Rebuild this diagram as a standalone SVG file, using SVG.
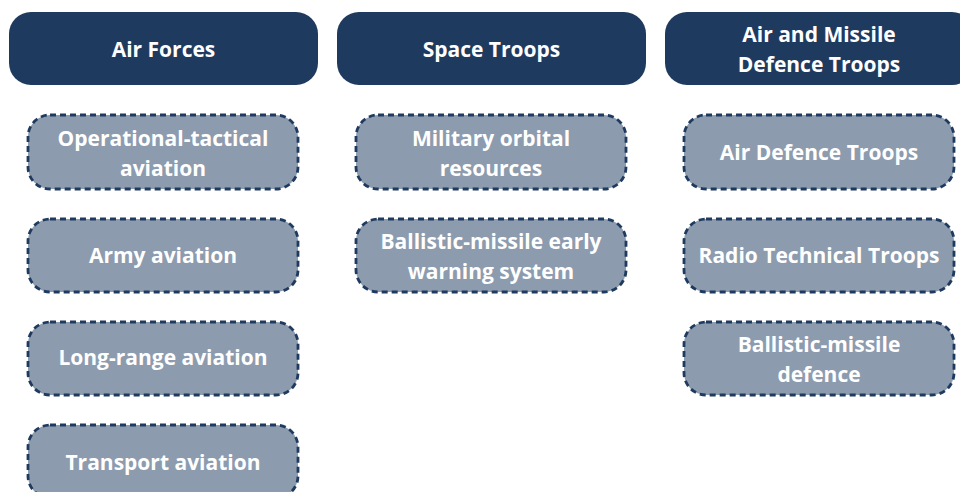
<svg xmlns="http://www.w3.org/2000/svg" width="960" height="492" viewBox="0 0 960 492">
  <style>
    .head rect { fill: #1f3a5f; }
    .sub rect { fill: #8c9bae; stroke: #1f3a5f; stroke-width: 2.8; stroke-dasharray: 6 4; }
    text { font-family: "Open Sans", "Liberation Sans", sans-serif; font-weight: 700; font-size: 21px; fill: #ffffff; text-anchor: middle; dominant-baseline: central; }
  </style>
  <rect width="960" height="492" fill="#ffffff"/>

  <!-- branch headers -->
  <g id="air-forces" class="head">
    <rect x="9" y="12" width="309" height="73" rx="22"/>
    <text x="163.5" y="49">Air Forces</text>
  </g>
  <g id="space-troops" class="head">
    <rect x="337" y="12" width="309" height="73" rx="22"/>
    <text x="491.5" y="49">Space Troops</text>
  </g>
  <g id="air-missile-defence" class="head">
    <rect x="665" y="12" width="309" height="73" rx="22"/>
    <text x="819" y="34">Air and Missile</text>
    <text x="819" y="64">Defence Troops</text>
  </g>

  <!-- Air Forces components -->
  <g id="operational-tactical" class="sub">
    <rect x="28" y="115" width="270" height="74" rx="22"/>
    <text x="163" y="138">Operational-tactical</text>
    <text x="163" y="168">aviation</text>
  </g>
  <g id="army-aviation" class="sub">
    <rect x="28" y="219" width="270" height="73" rx="22"/>
    <text x="163" y="255">Army aviation</text>
  </g>
  <g id="long-range-aviation" class="sub">
    <rect x="28" y="322" width="270" height="73" rx="22"/>
    <text x="163" y="357">Long-range aviation</text>
  </g>
  <g id="transport-aviation" class="sub">
    <rect x="28" y="425" width="270" height="73" rx="22"/>
    <text x="163" y="462">Transport aviation</text>
  </g>

  <!-- Space Troops components -->
  <g id="orbital-resources" class="sub">
    <rect x="356" y="115" width="270" height="74" rx="22"/>
    <text x="491" y="138">Military orbital</text>
    <text x="491" y="168">resources</text>
  </g>
  <g id="early-warning" class="sub">
    <rect x="356" y="219" width="270" height="73" rx="22"/>
    <text x="491" y="241">Ballistic-missile early</text>
    <text x="491" y="271">warning system</text>
  </g>

  <!-- Air and Missile Defence components -->
  <g id="air-defence-troops" class="sub">
    <rect x="684" y="115" width="270" height="74" rx="22"/>
    <text x="819" y="152">Air Defence Troops</text>
  </g>
  <g id="radio-technical-troops" class="sub">
    <rect x="684" y="219" width="270" height="73" rx="22"/>
    <text x="819" y="255">Radio Technical Troops</text>
  </g>
  <g id="missile-defence" class="sub">
    <rect x="684" y="322" width="270" height="73" rx="22"/>
    <text x="819" y="344">Ballistic-missile</text>
    <text x="819" y="374">defence</text>
  </g>

  <!-- no connectors between nodes -->
  <g id="connectors"/>
</svg>
